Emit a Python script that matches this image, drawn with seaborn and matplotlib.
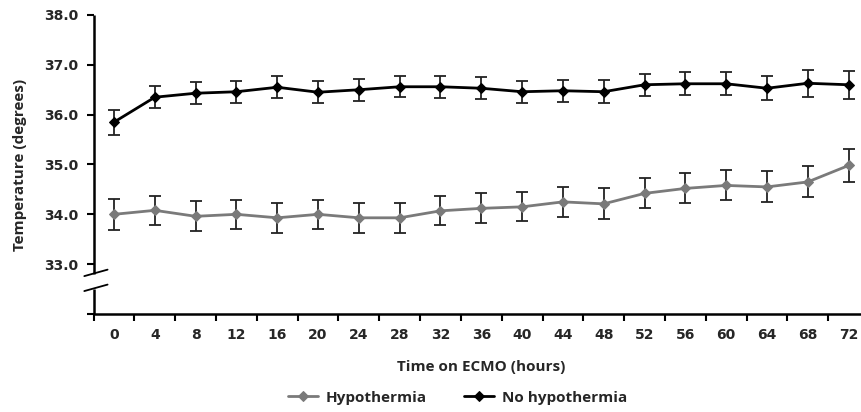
import numpy as np
import pandas as pd
import matplotlib
matplotlib.use("Agg")
import matplotlib.pyplot as plt
import seaborn as sns

hours = [0, 4, 8, 12, 16, 20, 24, 28, 32, 36, 40, 44, 48, 52, 56, 60, 64, 68, 72]
hypo_mean = [34.00, 34.08, 33.96, 34.00, 33.93, 34.00, 33.93, 33.93, 34.07, 34.12,
             34.15, 34.25, 34.21, 34.42, 34.52, 34.58, 34.55, 34.65, 34.98]
hypo_err = [0.31, 0.29, 0.30, 0.29, 0.30, 0.29, 0.30, 0.30, 0.29, 0.30,
            0.29, 0.30, 0.31, 0.30, 0.30, 0.30, 0.31, 0.31, 0.33]
normo_mean = [35.85, 36.35, 36.43, 36.46, 36.55, 36.45, 36.50, 36.56, 36.56, 36.53,
              36.46, 36.48, 36.46, 36.60, 36.62, 36.62, 36.53, 36.63, 36.60]
normo_err = [0.25, 0.22, 0.22, 0.22, 0.22, 0.22, 0.22, 0.21, 0.22, 0.22,
             0.22, 0.22, 0.23, 0.22, 0.23, 0.23, 0.24, 0.27, 0.28]
y_ticks = [32, 33, 34, 35, 36, 37, 38]

sns.set_style("white")
plt.rcParams["font.family"] = ["DejaVu Sans"]

pos = np.arange(len(hours))
df = pd.DataFrame({"pos": pos, "hypo": hypo_mean, "normo": normo_mean})

fig = plt.figure(figsize=(8.62, 4.12), dpi=100)
ax = fig.add_axes([0.1086, 0.2379, 0.8995, 0.7257])

grey = "#7a7a7a"
ax.errorbar(pos, hypo_mean, yerr=hypo_err, fmt="none", ecolor="#222222",
            elinewidth=1.3, capsize=4, capthick=1.3, zorder=2)
ax.errorbar(pos, normo_mean, yerr=normo_err, fmt="none", ecolor="#222222",
            elinewidth=1.3, capsize=4, capthick=1.3, zorder=2)
sns.lineplot(data=df, x="pos", y="hypo", ax=ax, color=grey, marker="D",
             markersize=5.5, markeredgecolor=grey, linewidth=2.0,
             label="Hypothermia", zorder=3)
sns.lineplot(data=df, x="pos", y="normo", ax=ax, color="black", marker="D",
             markersize=5.5, markeredgecolor="black", linewidth=2.0,
             label="No hypothermia", zorder=4)

ax.set_xlim(-0.5, len(hours) - 0.5)
ax.set_ylim(32, 38)

# x: labels at centres, tick marks at the boundaries
ax.set_xticks(pos)
ax.set_xticklabels([str(h) for h in hours], fontsize=10, fontweight="bold")
ax.set_xticks(np.arange(-0.5, len(hours), 1.0), minor=True)
ax.tick_params(axis="x", which="major", length=0, pad=10)
ax.tick_params(axis="x", which="minor", length=5, width=1.5, direction="out",
               bottom=True, color="black")

ax.set_yticks(y_ticks)
ax.set_yticklabels([""] + [f"{v:.1f}" for v in y_ticks[1:]], fontsize=10,
                   fontweight="bold")
ax.tick_params(axis="y", length=5, width=1.5, direction="out", left=True,
               color="black", pad=6)

for s in ["top", "right"]:
    ax.spines[s].set_visible(False)
ax.spines["left"].set_visible(False)
ax.spines["bottom"].set_linewidth(1.8)
ax.spines["bottom"].set_color("black")

# broken y axis
tr = ax.get_yaxis_transform()
ax.plot([0, 0], [32, 32.5], transform=tr, color="black", lw=1.8,
        clip_on=False, solid_capstyle="butt")
ax.plot([0, 0], [32.8, 38], transform=tr, color="black", lw=1.8,
        clip_on=False, solid_capstyle="butt")
for yb in [32.8, 32.5]:
    ax.plot([-0.012, 0.018], [yb - 0.04, yb + 0.09], transform=tr,
            color="black", lw=1.3, clip_on=False)

ax.set_xlabel("Time on ECMO (hours)", fontsize=11, fontweight="bold",
              family="Open Sans", labelpad=13)
ax.set_ylabel("Temperature (degrees)", fontsize=11, fontweight="bold",
              family="Open Sans", labelpad=12)

ax.legend(loc="upper center", bbox_to_anchor=(0.469, -0.21), ncol=2,
          frameon=False, prop={"family": "Open Sans", "weight": "bold", "size": 11},
          handlelength=2.0, handletextpad=0.5, columnspacing=2.4)

fig.savefig("out.png", dpi=100)
